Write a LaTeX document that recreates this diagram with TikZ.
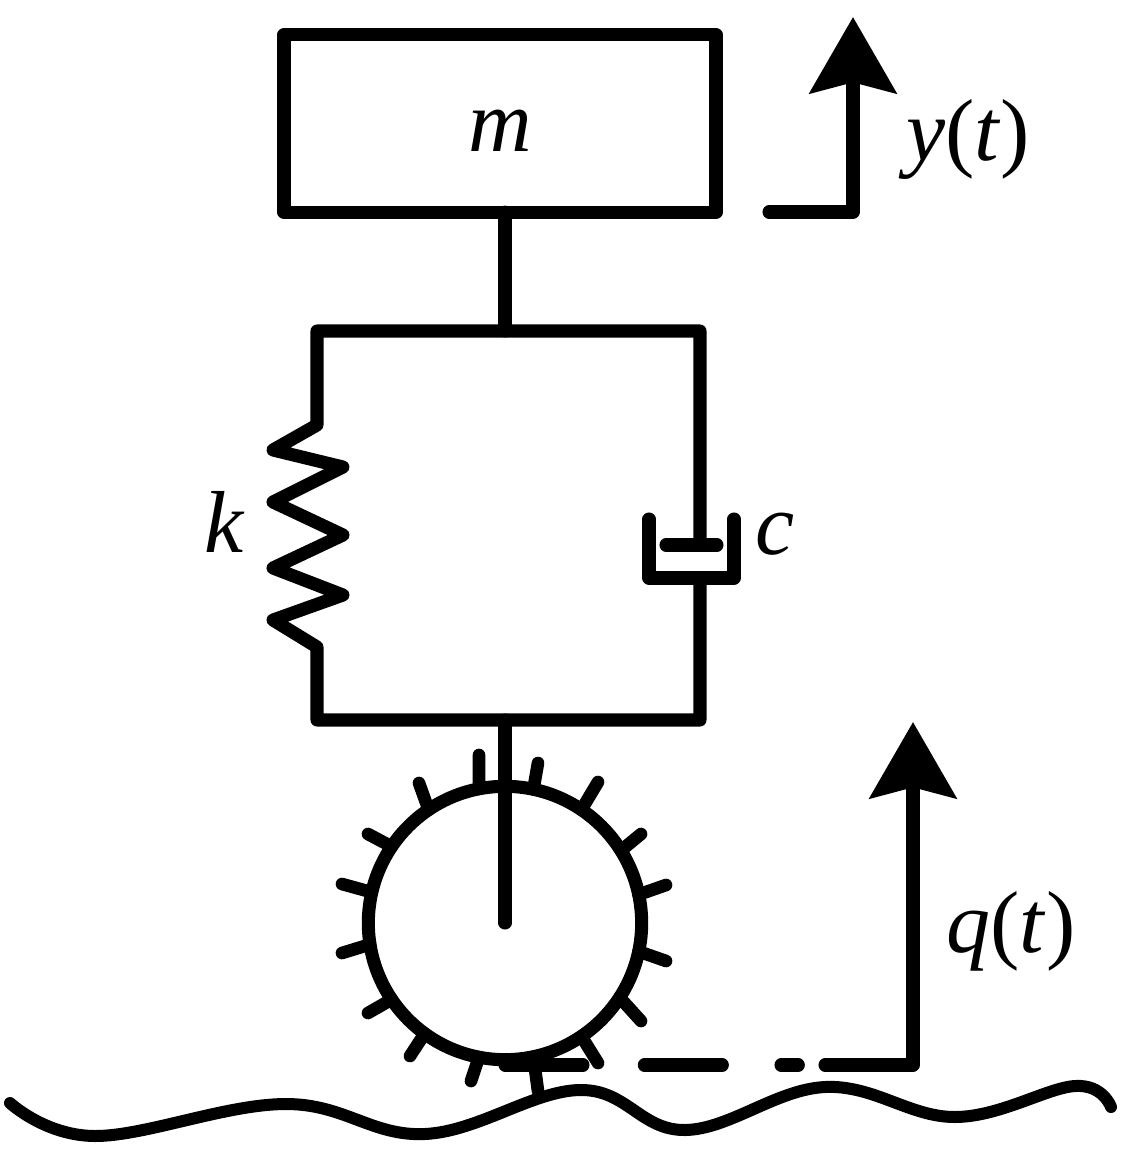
\documentclass[tikz,border=0pt]{standalone}
\usepackage{fontspec}
\setmainfont{Liberation Serif}
\usetikzlibrary{arrows.meta}
\tikzset{
  member/.style={line width=9.8pt, line cap=round, line join=round},
  spike/.style={line width=9.5pt, line cap=round},
  varname/.style={inner sep=0pt, font=\fontsize{66}{72}\selectfont},
  bigtip/.style={-{Stealth[length=57pt,width=64.5pt,inset=8pt]}}
}
\begin{document}
\begin{tikzpicture}[x=.75pt,y=-.75pt]
\useasboundingbox (0,0) rectangle (1130,1157);
\node (mass) at (500,123.5) [draw,member,minimum width=324pt,minimum height=133pt,outer sep=0pt] {};
\node (wheel) at (505,923) [draw,member,circle,minimum size=205pt,inner sep=0pt,outer sep=0pt] {};
\node (mname) at (500,131) [varname] {\textit{m}};
\node (yname) at (968,139) [varname] {\textit{y}(\textit{t})};
\node (kname) at (225,522) [varname] {\textit{k}};
\node (cname) at (775,534) [varname] {\textit{c}};
\node (qname) at (1011,931) [varname] {\textit{q}(\textit{t})};
\coordinate (topmid) at (505,331);
\coordinate (topleft) at (317,331);
\coordinate (topright) at (700,331);
\coordinate (botleft) at (317,720);
\coordinate (botright) at (700,720);
\coordinate (botmid) at (505,720);
\coordinate (piston) at (700,545);
\coordinate (cupbase) at (700,578);
\coordinate (ystart) at (769,212);
\coordinate (ycorner) at (853,212);
\coordinate (ytip) at (853,17);
\coordinate (qstart) at (505,1065);
\coordinate (qcorner) at (913,1065);
\coordinate (qtip) at (913,722);
% frame with the spring
\draw[member] (mass.south -| topmid) -- (topmid);
\draw[member] (botmid) -- (wheel.center);
\draw[member] (cupbase) -- (botright) -- (botleft) -- (317,647) -- (273,620) -- (343,595)
  -- (273,568) -- (343,535) -- (273,502) -- (343,467) -- (273,450) -- (317,425)
  -- (topleft) -- (topright) -- (piston);
% damper
\draw[member] (666,545) -- (717,545);
\draw[member] (649,519) -- (649,578) -- (734,578) -- (734,519);
% spikes of the wheel
\foreach \ang/\px/\py in {101.5/479/755, 78.8/538/763, 56.5/598/782, 32/641/834,
  12.3/666/885, -12.8/666/961, -33.8/641/1021, -56.3/598/1063,
  -78.7/538/1091, -101.5/471/1081, -126.7/410/1056, -146.5/368/1013,
  -171/342/953, 167/342/884, 146.4/368/834, 124/419/783}
  \draw[spike] (wheel.\ang) -- (\px,\py);
% road
\draw[line width=9pt,line cap=round] plot[smooth,tension=.65] coordinates {(10,1103) (95,1136)
  (285,1104) (425,1134) (580,1090) (685,1130) (825,1087) (955,1117) (1075,1086) (1111,1107)};
% displacements
\draw[member,bigtip] (ystart) -- (ycorner) -- (ytip);
\draw[member,dash pattern=on 58.5pt off 46pt on 58.5pt off 44pt on 13pt off 20pt on 400pt] (qstart) -- (qcorner);
\draw[member,bigtip] (qcorner) -- (qtip);
\end{tikzpicture}
\end{document}
